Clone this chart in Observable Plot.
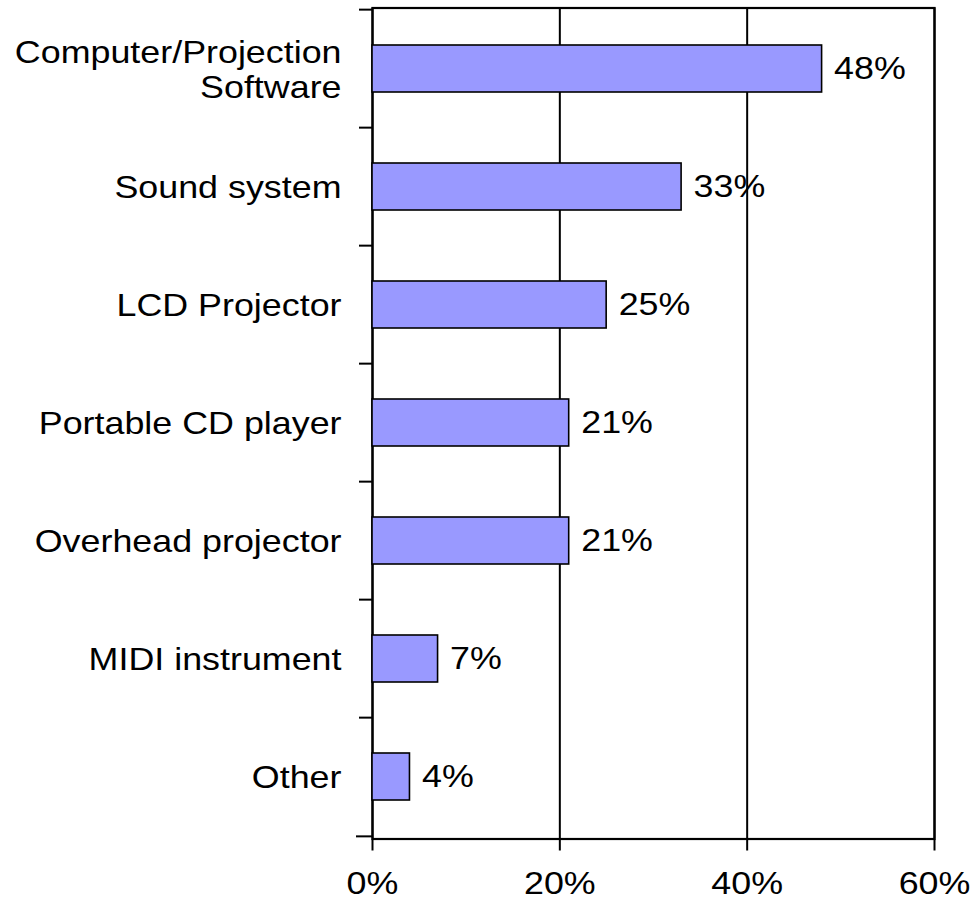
<!DOCTYPE html>
<html>
<head>
<meta charset="utf-8">
<script src="https://cdn.jsdelivr.net/npm/d3@7"></script>
<script src="https://cdn.jsdelivr.net/npm/@observablehq/plot@0.6"></script>
<style>
  html, body { margin: 0; padding: 0; background: #fff; }
  svg { font-family: "Liberation Sans", Arial, sans-serif; overflow: visible; }
</style>
</head>
<body>
<div id="chart"></div>
<script>
const categories = [
  "Computer/Projection\nSoftware",
  "Sound system",
  "LCD Projector",
  "Portable CD player",
  "Overhead projector",
  "MIDI instrument",
  "Other"
];
const values = [48, 33, 25, 21, 21, 7, 4];
const xTicks = [0, 20, 40, 60];

const data = categories.map((c, i) => ({cat: c, value: values[i]}));

const W = 971, H = 900;
const mTop = 7.5, mBottom = 61.5, mLeft = 372, mRight = 37;
const step = (H - mTop - mBottom) / categories.length;
const FS = 32;
const STRETCH = 1.12;

const chart = Plot.plot({
  width: W,
  height: H,
  marginTop: mTop,
  marginBottom: mBottom,
  marginLeft: mLeft,
  marginRight: mRight,
  style: {fontSize: FS + "px", fontFamily: '"Liberation Sans", Arial, sans-serif', background: "#fff", color: "#000", overflow: "visible"},
  x: {domain: [0, 60], axis: null},
  y: {type: "band", domain: categories, paddingInner: 0.6, paddingOuter: 0.3, axis: null},
  marks: [
    Plot.ruleX(xTicks, {stroke: "#000", strokeWidth: 2}),
    Plot.frame({stroke: "#000", strokeWidth: 2.2}),
    Plot.barX(data, {x: "value", y: "cat", fill: "#9999ff", stroke: "#000", strokeWidth: 1.6}),
    // left ticks at band boundaries (top edge of each band)
    Plot.ruleY(categories, {y: d => d, x1: 0, x2: 0, dy: -step / 2, insetLeft: -13, stroke: "#000", strokeWidth: 2}),
    // left tick at the bottom boundary
    Plot.ruleY([categories[categories.length - 1]], {y: d => d, x1: 0, x2: 0, dy: step / 2, insetLeft: -16, stroke: "#000", strokeWidth: 2}),
    Plot.axisX(xTicks, {anchor: "bottom", tickSize: 12, tickPadding: 20, strokeWidth: 2, tickFormat: d => d + "%", label: null, fontSize: FS}),
    Plot.text(data, {x: 0, y: "cat", text: "cat", textAnchor: "end", dx: -31, lineHeight: 1.12, fontSize: FS, fill: "#000"}),
    Plot.text(data, {x: "value", y: "cat", text: d => d.value + "%", textAnchor: "start", dx: 12, fontSize: FS, fill: "#000"})
  ]
});

document.getElementById("chart").appendChild(chart);

// Stretch text horizontally to mimic the wide rendering of the original
chart.querySelectorAll("text").forEach(t => {
  const tr = t.getAttribute("transform");
  if (tr && tr.includes("translate")) {
    t.setAttribute("transform", tr + ` scale(${STRETCH},1)`);
  } else {
    const x = +(t.getAttribute("x") || 0);
    t.setAttribute("transform", (tr ? tr + " " : "") + `translate(${x},0) scale(${STRETCH},1) translate(${-x},0)`);
  }
});
</script>
</body>
</html>
